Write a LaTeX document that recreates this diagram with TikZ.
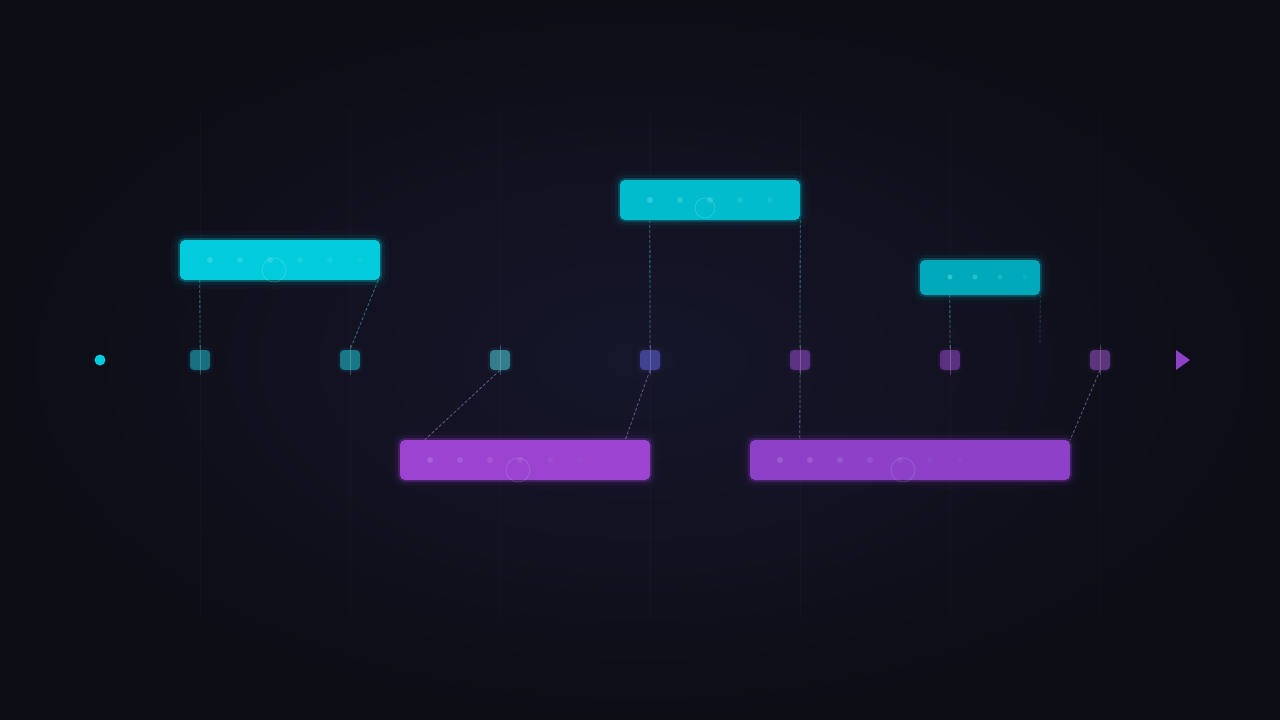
\documentclass[tikz,border=0pt]{standalone}
\usetikzlibrary{arrows}
\definecolor{bgout}{HTML}{0D0D16}
\definecolor{bgin}{HTML}{16162B}
\definecolor{cyanA}{HTML}{00CCDC}
\definecolor{cyanB}{HTML}{00BCCC}
\definecolor{cyanC}{HTML}{00A9B9}
\definecolor{purpD}{HTML}{9B44D2}
\definecolor{purpE}{HTML}{8D40C8}
\definecolor{sqa}{HTML}{17707F}
\definecolor{sqb}{HTML}{187888}
\definecolor{sqc}{HTML}{327E8C}
\definecolor{sqd}{HTML}{404290}
\definecolor{sqe}{HTML}{5C3384}
\definecolor{sqf}{HTML}{5A3180}
\definecolor{sqg}{HTML}{5C357E}
\definecolor{linkc}{HTML}{3C8C9E}
\definecolor{linkp}{HTML}{8A78B4}

\begin{document}
\begin{tikzpicture}[x=1pt,y=-1pt,
	bar/.style={fill=#1, rounded corners=5pt, inner sep=0pt, preaction={draw=#1, line width=4pt, draw opacity=0.25}, preaction={draw=#1, line width=10pt, draw opacity=0.08}, preaction={draw=#1, line width=18pt, draw opacity=0.03}},
	mark/.style={fill=#1, rounded corners=4pt, inner sep=0pt, minimum size=20pt, preaction={draw=#1, line width=5pt, draw opacity=0.12}},
	linkcy/.style={draw=linkc, line width=0.8pt, dash pattern=on 3pt off 2pt, opacity=0.8},
	linkpu/.style={draw=linkp, line width=0.8pt, dash pattern=on 3pt off 2pt, opacity=0.7},
	tick/.style={draw=white, line width=0.6pt, opacity=0.2}]
	\useasboundingbox (0,0) rectangle (1280,720);
	\fill[bgout] (0,0) rectangle (1280,720);
	\shade[inner color=bgin, outer color=bgout] (0,0) rectangle (1280,720);
	\foreach \i in {0,...,6}
		\draw[white, line width=0.6pt, opacity=0.02] (200+150*\i,110) -- (200+150*\i,620);

	\node[circle, fill=cyanA, minimum size=11pt, inner sep=0pt] (start) at (100,360) {};
	\foreach \i/\c in {1/sqa,2/sqb,3/sqc,4/sqd,5/sqe,6/sqf,7/sqg}
		\node[mark=\c] (s\i) at (50+150*\i,360) {};
	\fill[purpE] (1176,350) -- (1190,360) -- (1176,370) -- cycle;

	\node[bar=cyanA, minimum width=200pt, minimum height=40pt] (barA) at (280,260) {};
	\node[bar=cyanB, minimum width=180pt, minimum height=40pt] (barB) at (710,200) {};
	\node[bar=cyanC, minimum width=120pt, minimum height=35pt] (barC) at (980,277.5) {};
	\node[bar=purpD, minimum width=250pt, minimum height=40pt] (barD) at (525,460) {};
	\node[bar=purpE, minimum width=320pt, minimum height=40pt] (barE) at (910,460) {};

	\foreach \k/\o in {0/0.6,1/0.5,2/0.45,3/0.35,4/0.25,5/0.15}
		\fill[cyanA!70!white, opacity=\o] (210+30*\k,260) circle (3pt);
	\foreach \k/\o in {0/0.6,1/0.5,2/0.4,3/0.3,4/0.2}
		\fill[cyanA!70!white, opacity=\o] (650+30*\k,200) circle (3pt);
	\foreach \k/\o in {0/0.6,1/0.45,2/0.3,3/0.15}
		\fill[cyanA!70!white, opacity=\o] (950+25*\k,277) circle (2.5pt);
	\foreach \k/\o in {0/0.35,1/0.3,2/0.25,3/0.2,4/0.12,5/0.08}
		\fill[purpD!60!white, opacity=\o] (430+30*\k,460) circle (3pt);
	\foreach \k/\o in {0/0.4,1/0.35,2/0.3,3/0.22,4/0.15,5/0.1,6/0.07}
		\fill[purpE!60!white, opacity=\o] (780+30*\k,460) circle (3pt);
	\draw[white, line width=0.6pt, opacity=0.22] (274,270) circle (12pt);
	\draw[white, line width=0.6pt, opacity=0.22] (705,208) circle (10pt);
	\draw[white, line width=0.6pt, opacity=0.18] (518,470) circle (12pt);
	\draw[white, line width=0.6pt, opacity=0.18] (903,470) circle (12pt);

	\coordinate (cEnd) at (1040,345);
	\draw[linkcy] ([xshift=20pt]barA.south west) -- (s1.north);
	\draw[linkcy] ([xshift=-2pt]barA.south east) -- (s2.north);
	\draw[linkcy] ([xshift=30pt]barB.south west) -- (s4.north);
	\draw[linkcy] (barB.south east) -- (s5.north);
	\draw[linkcy] ([xshift=30pt]barC.south west) -- (s6.north);
	\draw[linkcy, opacity=0.4] (barC.south east) -- (cEnd);
	\draw[linkpu] (s3.south) -- ([xshift=25pt]barD.north west);
	\draw[linkpu] (s4.south) -- ([xshift=-25pt]barD.north east);
	\draw[linkpu] (s5.south) -- ([xshift=50pt]barE.north west);
	\draw[linkpu] (s7.south) -- (barE.north east);
	\foreach \i in {1,...,7}
		\draw[tick] ([yshift=5pt]s\i.north) -- ([yshift=-5pt]s\i.south);
\end{tikzpicture}
\end{document}
